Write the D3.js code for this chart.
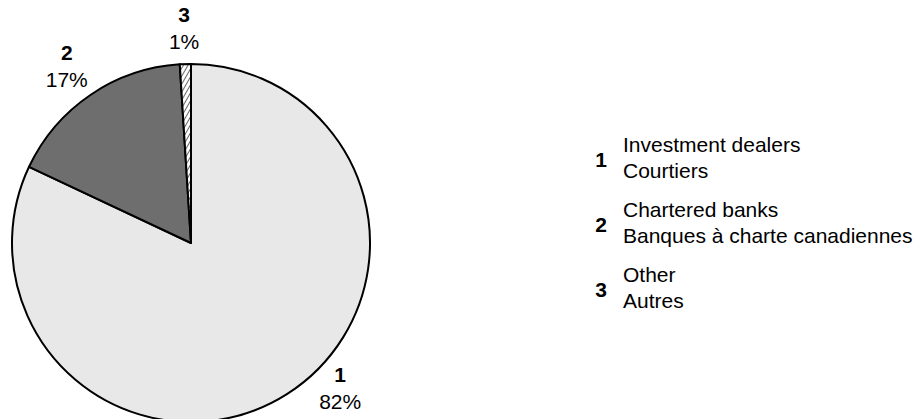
<!DOCTYPE html>
<html>
<head>
<meta charset="utf-8">
<script src="https://cdn.jsdelivr.net/npm/d3@7"></script>
<style>
  body { margin: 0; background: #fff; }
  text { font-family: "Liberation Sans", Arial, sans-serif; fill: #000; }
</style>
</head>
<body>
<svg id="chart" width="914" height="419"></svg>
<script>
// data
const categories = ["1", "2", "3"];
const shares = [82, 17, 1];
const namesEn = ["Investment dealers", "Chartered banks", "Other"];
const namesFr = ["Courtiers", "Banques à charte canadiennes", "Autres"];
const percentLabels = ["82%", "17%", "1%"];

const fills = ["#e8e8e8", "#6e6e6e", "url(#hatch)"];

let svg = d3.select("#chart");
let cx = 191, cy = 243, radius = 179; // pie centre and size
let fontSize = 21;

// hatch for the small slice
let defs = svg.append("defs");
let pat = defs.append("pattern")
    .attr("id", "hatch")
    .attr("patternUnits", "userSpaceOnUse")
    .attr("width", 4).attr("height", 4)
    .attr("patternTransform", "rotate(30)");
pat.append("rect").attr("width", 4).attr("height", 4).attr("fill", "#fff");
pat.append("line")
    .attr("x1", 0).attr("y1", 0).attr("x2", 0).attr("y2", 4)
    .attr("stroke", "#000").attr("stroke-width", 1.2);

let pie = d3.pie().sort(null).value(d => d);
let arcs = pie(shares);

let arc = d3.arc().innerRadius(0).outerRadius(radius);

let g = svg.append("g")
    .attr("transform", "translate(" + cx + "," + cy + ")");

g.selectAll(".slice")
    .data(arcs)
    .enter()
    .append("path")
    .attr("class", "slice")
    .attr("d", arc)
    .attr("fill", (d, i) => fills[i])
    .attr("stroke", "#000")
    .attr("stroke-width", 2)
    .attr("stroke-linejoin", "round");

// slice labels sit outside the pie; the big slice's label is pulled up
// so that it stays inside the picture
function labelPoint(d, i) {
    let a = (d.startAngle + d.endAngle) / 2;
    let r = 221;
    if (i === 0) { a = 133 * Math.PI / 180; r = 204; }
    return [r * Math.sin(a), -r * Math.cos(a)];
}

let labels = g.selectAll(".lbl")
    .data(arcs)
    .enter()
    .append("g")
    .attr("class", "lbl")
    .attr("transform", (d, i) => "translate(" + labelPoint(d, i) + ")");

labels.append("text")
    .attr("text-anchor", "middle")
    .attr("font-size", fontSize)
    .attr("font-weight", "bold")
    .text((d, i) => categories[i]);

labels.append("text")
    .attr("text-anchor", "middle")
    .attr("font-size", fontSize)
    .attr("y", 27)
    .text((d, i) => percentLabels[i]);

// legend
let legendY = d3.scalePoint()
    .domain(categories)
    .range([167, 297]);

let legend = svg.append("g")
    .selectAll(".leg")
    .data(categories)
    .enter()
    .append("g")
    .attr("class", "leg")
    .attr("transform", d => "translate(601," + legendY(d) + ")");

legend.append("text")
    .attr("text-anchor", "middle")
    .attr("font-size", fontSize)
    .attr("font-weight", "bold")
    .text(d => d);

legend.append("text")
    .attr("x", 22)
    .attr("y", -15)
    .attr("font-size", fontSize)
    .text((d, i) => namesEn[i]);

legend.append("text")
    .attr("x", 22)
    .attr("y", 11)
    .attr("font-size", fontSize)
    .text((d, i) => namesFr[i]);
</script>
</body>
</html>
